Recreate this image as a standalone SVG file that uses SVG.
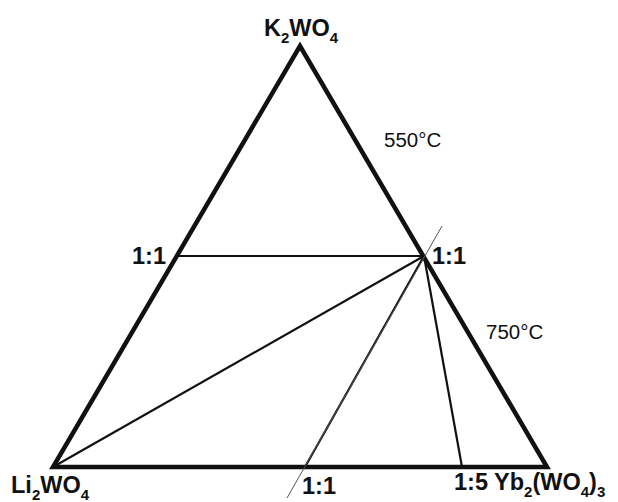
<svg xmlns="http://www.w3.org/2000/svg" width="618" height="502" viewBox="0 0 618 502">
<style>
.lbl{font-family:"Liberation Sans",Arial,sans-serif;font-size:23.5px;font-weight:bold;fill:#111}
.tmp{font-family:"Liberation Sans",Arial,sans-serif;font-size:20.5px;fill:#111}
.sub{font-size:15px}
.tri{fill:none;stroke:#111;stroke-width:4.5;stroke-linejoin:miter}
.ln{stroke:#111;stroke-width:2.2;fill:none}
.thin{stroke:#555;stroke-width:1;fill:none}
</style>
<rect width="618" height="502" fill="#fff"/>
<g id="connectors">
<polygon class="tri" points="300,46 53,467 547,467"/>
<line class="ln" x1="176" y1="256" x2="424" y2="256"/>
<line class="ln" x1="424" y1="256" x2="53" y2="467"/>
<line class="ln" x1="424" y1="256" x2="305" y2="467"/>
<line class="ln" x1="424" y1="256" x2="462" y2="467"/>
<line class="thin" x1="442" y1="226" x2="287" y2="498"/>
</g>
<g id="K2WO4"><text class="lbl" x="264" y="36">K<tspan class="sub" dy="7">2</tspan><tspan dy="-7">WO</tspan><tspan class="sub" dy="7">4</tspan></text></g>
<g id="Li2WO4"><text class="lbl" x="11" y="493">Li<tspan class="sub" dy="7">2</tspan><tspan dy="-7">WO</tspan><tspan class="sub" dy="7">4</tspan></text></g>
<g id="Yb2WO43"><text class="lbl" x="454" y="490">1:5 Yb<tspan class="sub" dy="7">2</tspan><tspan dy="-7">(WO</tspan><tspan class="sub" dy="7">4</tspan><tspan dy="-7">)</tspan><tspan class="sub" dy="7">3</tspan></text></g>
<g id="r11left"><text class="lbl" x="166" y="264" text-anchor="end">1:1</text></g>
<g id="r11right"><text class="lbl" x="432" y="264">1:1</text></g>
<g id="r11bottom"><text class="lbl" x="302" y="494">1:1</text></g>
<g id="t550"><text class="tmp" x="384" y="147">550°C</text></g>
<g id="t750"><text class="tmp" x="486" y="339">750°C</text></g>
</svg>
